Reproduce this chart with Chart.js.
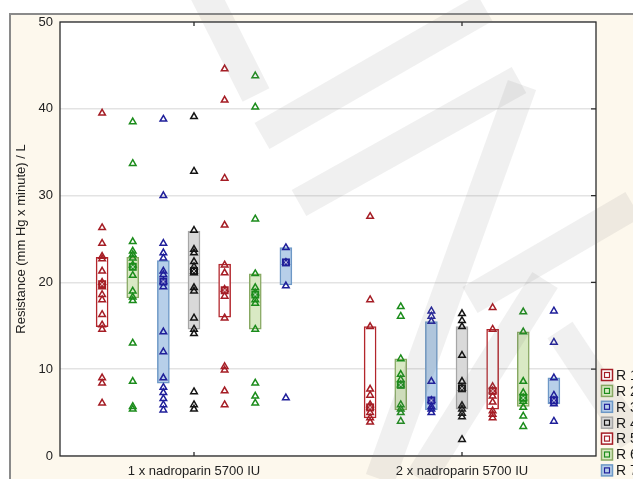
<!DOCTYPE html>
<html>
<head>
<meta charset="utf-8">
<script src="https://cdn.jsdelivr.net/npm/chart.js@4"></script>
<style>
  html, body { margin: 0; padding: 0; background: #fff; overflow: hidden; }
</style>
</head>
<body>
<canvas id="resChart" width="633" height="479"></canvas>
<script>
// categories and groups
const categories = ['1 x nadroparin 5700 IU', '2 x nadroparin 5700 IU'];
const groups = ['R 1', 'R 2', 'R 3', 'R 4', 'R 5', 'R 6', 'R 7'];

// boxes (low / high) and medians, one value per group
const boxLow1 = [14.9, 18.2, 8.4, 14.6, 16.0, 14.6, 19.7];
const boxHigh1 = [22.9, 22.9, 22.5, 25.9, 22.1, 21.0, 24.0];
const median1 = [19.8, 21.8, 20.1, 21.3, 19.1, 18.6, 22.3];
const boxLow2 = [4.4, 5.3, 5.3, 5.4, 5.4, 5.7, 6.0];
const boxHigh2 = [14.9, 11.2, 15.5, 14.9, 14.6, 14.3, 9.0];
const median2 = [5.6, 8.2, 6.4, 7.8, 7.5, 6.7, 6.4];

// raw values per group
const points1 = [
  [39.5, 26.3, 24.5, 23.0, 22.7, 21.3, 20.0, 19.5, 18.6, 18.0, 16.3, 15.1, 14.6, 9.0, 8.4, 6.1],
  [38.5, 33.7, 24.7, 23.6, 23.2, 22.8, 22.0, 20.8, 19.0, 18.3, 17.9, 13.0, 8.6, 5.7, 5.4],
  [38.8, 30.0, 24.5, 23.4, 22.8, 21.3, 20.9, 20.1, 19.5, 14.3, 12.0, 9.0, 7.9, 7.3, 6.6, 5.9, 5.3],
  [39.1, 32.8, 26.0, 23.8, 23.4, 22.4, 21.8, 21.3, 21.1, 19.4, 19.0, 15.9, 14.6, 14.1, 7.4, 5.9, 5.4],
  [44.6, 41.0, 32.0, 26.6, 22.0, 21.1, 19.2, 18.4, 15.9, 10.3, 9.9, 7.5, 5.9],
  [43.8, 40.2, 27.3, 21.0, 19.4, 18.8, 18.0, 17.6, 14.6, 8.4, 6.9, 6.1],
  [24.0, 22.3, 19.6, 6.7]
];
const points2 = [
  [27.6, 18.0, 14.9, 7.7, 7.0, 5.9, 5.6, 5.0, 4.4, 3.9],
  [17.2, 16.1, 11.2, 9.4, 8.8, 8.2, 5.9, 5.4, 5.0, 4.0],
  [16.7, 16.1, 15.5, 8.6, 6.4, 5.7, 5.4, 5.0],
  [16.4, 15.6, 14.9, 11.6, 8.6, 7.8, 5.8, 5.4, 4.9, 4.5, 1.9],
  [17.1, 14.6, 8.0, 7.5, 6.9, 6.2, 5.2, 4.8, 4.4],
  [16.6, 14.3, 8.6, 7.3, 6.7, 6.3, 5.6, 4.6, 3.4],
  [16.7, 13.1, 9.0, 7.0, 6.4, 6.0, 4.0]
];

const yTicks = [0, 10, 20, 30, 40, 50];

// colours
const boxEdge = ['#b3262c', '#87a862', '#6d98c6', '#a6a6a6', '#b3262c', '#87a862', '#6d98c6'];
const boxFill = ['#ffffff', '#d9e9c4', '#b7cfe9', '#d9d9d9', '#ffffff', '#d9e9c4', '#b7cfe9'];
const pointColor = ['#a51d25', '#1b8c1b', '#1f1f9a', '#141414', '#a51d25', '#1b8c1b', '#1f1f9a'];

const FONT = 'Liberation Sans, Arial, sans-serif';
const catPct = 0.8;

// x position of a group inside a category, in category units
function groupX(ci, gi) {
  const slot = catPct / groups.length;
  return ci + (gi - (groups.length - 1) / 2) * slot;
}

// median marker: dark square with a light cross inside
function medianMark(edge) {
  const c = document.createElement('canvas');
  c.width = 10; c.height = 10;
  const g = c.getContext('2d');
  g.fillStyle = edge;
  g.fillRect(1, 1, 8, 8);
  g.strokeStyle = 'rgba(255,255,255,0.75)';
  g.lineWidth = 1;
  g.beginPath();
  g.moveTo(3, 3); g.lineTo(7, 7);
  g.moveTo(7, 3); g.lineTo(3, 7);
  g.stroke();
  return c;
}

const boxSets = groups.map((g, i) => ({
  type: 'bar',
  label: g,
  data: [
    { x: groupX(0, i), y: [boxLow1[i], boxHigh1[i]] },
    { x: groupX(1, i), y: [boxLow2[i], boxHigh2[i]] }
  ],
  backgroundColor: boxFill[i],
  borderColor: boxEdge[i],
  borderWidth: 1.5,
  borderSkipped: false,
  grouped: false,
  barThickness: 12,
  xAxisID: 'xp',
  order: 3
}));

const pointSets = groups.map((g, i) => ({
  type: 'scatter',
  label: g + ' values',
  data: points1[i].map(v => ({ x: groupX(0, i), y: v }))
    .concat(points2[i].map(v => ({ x: groupX(1, i), y: v }))),
  xAxisID: 'xp',
  pointStyle: 'triangle',
  pointRadius: 3.8,
  borderWidth: 1.5,
  borderColor: pointColor[i],
  backgroundColor: 'rgba(0,0,0,0)',
  order: 1
}));

const medianSets = groups.map((g, i) => ({
  type: 'scatter',
  label: g + ' median',
  data: [{ x: groupX(0, i), y: median1[i] }, { x: groupX(1, i), y: median2[i] }],
  xAxisID: 'xp',
  pointStyle: medianMark(pointColor[i]),
  pointRadius: 5,
  order: 0
}));

// cream panel + white plot area
const framePlugin = {
  id: 'frame',
  beforeDraw(chart) {
    const { ctx, width, height, chartArea: a } = chart;
    ctx.save();
    ctx.fillStyle = '#fff';
    ctx.fillRect(0, 0, width, height);
    ctx.fillStyle = '#fdf8ed';
    ctx.fillRect(10, 14, width - 10, height - 14);
    ctx.strokeStyle = '#8a8a8a';
    ctx.lineWidth = 2;
    ctx.beginPath();
    ctx.moveTo(10, height); ctx.lineTo(10, 14); ctx.lineTo(width, 14);
    ctx.stroke();
    ctx.fillStyle = '#fff';
    ctx.fillRect(a.left, a.top, a.right - a.left, a.bottom - a.top);
    ctx.restore();
  },
  afterDatasetsDraw(chart) {
    const { ctx, chartArea: a, scales } = chart;
    ctx.save();
    ctx.strokeStyle = '#2b2b2b';
    ctx.lineWidth = 1.3;
    ctx.strokeRect(a.left, a.top, a.right - a.left, a.bottom - a.top);
    ctx.beginPath();
    yTicks.slice(1, -1).forEach(v => {
      const py = scales.y.getPixelForValue(v);
      ctx.moveTo(a.right - 5, py); ctx.lineTo(a.right, py);
    });
    categories.forEach((c, i) => {
      const px = scales.x.getPixelForTick(i);
      ctx.moveTo(px, a.top); ctx.lineTo(px, a.top + 4);
      ctx.moveTo(px, a.bottom); ctx.lineTo(px, a.bottom - 4);
    });
    ctx.stroke();
    ctx.restore();
  }
};

// faint watermark bands over the picture
const bands = [
  [203, -10, 256, 95],
  [262, 136, 485, 8],
  [299, 203, 519, 80],
  [522, 85, 380, 479],
  [420, 479, 545, 280],
  [470, 300, 633, 205],
  [560, 330, 633, 440]
];
const watermarkPlugin = {
  id: 'watermark',
  afterDraw(chart) {
    const ctx = chart.ctx;
    ctx.save();
    ctx.strokeStyle = 'rgba(120,120,120,0.11)';
    ctx.lineWidth = 30;
    bands.forEach(b => {
      ctx.beginPath();
      ctx.moveTo(b[0], b[1]); ctx.lineTo(b[2], b[3]);
      ctx.stroke();
    });
    ctx.restore();
  }
};

// legend at lower right, cut by the page edge like the original
const legendPlugin = {
  id: 'boxLegend',
  afterDraw(chart) {
    const ctx = chart.ctx;
    ctx.save();
    ctx.font = '14px ' + FONT;
    ctx.textBaseline = 'middle';
    groups.forEach((g, i) => {
      const cx = 607, cy = 375 + i * 15.9;
      ctx.fillStyle = boxFill[i];
      ctx.fillRect(cx - 5.5, cy - 5.5, 11, 11);
      ctx.strokeStyle = i % 4 === 0 ? pointColor[i] : boxEdge[i];
      ctx.lineWidth = 1.5;
      ctx.strokeRect(cx - 5.5, cy - 5.5, 11, 11);
      ctx.strokeStyle = pointColor[i];
      ctx.lineWidth = 1.2;
      ctx.strokeRect(cx - 2.5, cy - 2.5, 5, 5);
      ctx.fillStyle = '#1a1a1a';
      ctx.fillText(g, 616, cy + 1);
    });
    ctx.restore();
  }
};

new Chart(document.getElementById('resChart').getContext('2d'), {
  type: 'bar',
  data: {
    labels: categories,
    datasets: boxSets.concat(pointSets, medianSets)
  },
  options: {
    responsive: false,
    animation: false,
    devicePixelRatio: 1,
    layout: { padding: { left: 0, top: 22, right: 37, bottom: 0 } },
    plugins: {
      legend: { display: false },
      tooltip: { enabled: false }
    },
    scales: {
      x: {
        type: 'category',
        offset: true,
        grid: { display: false, drawTicks: false },
        border: { display: false },
        ticks: { color: '#222', font: { family: FONT, size: 13 }, padding: 8 },
        afterFit(s) { s.height = 23; }
      },
      xp: { type: 'linear', display: false, offset: false, min: -0.5, max: 1.5 },
      y: {
        min: 0,
        max: 50,
        afterBuildTicks(s) { s.ticks = yTicks.map(v => ({ value: v })); },
        ticks: { color: '#222', font: { family: FONT, size: 13 }, padding: 7 },
        grid: { color: '#e3e3e3', lineWidth: 1.5, drawTicks: false },
        border: { display: false },
        title: {
          display: true,
          text: 'Resistance (mm Hg x minute) / L',
          color: '#222',
          font: { family: FONT, size: 13 },
          padding: { top: 14, bottom: 0 }
        },
        afterFit(s) { s.width = 60; }
      }
    }
  },
  plugins: [framePlugin, watermarkPlugin, legendPlugin]
});
</script>
</body>
</html>
